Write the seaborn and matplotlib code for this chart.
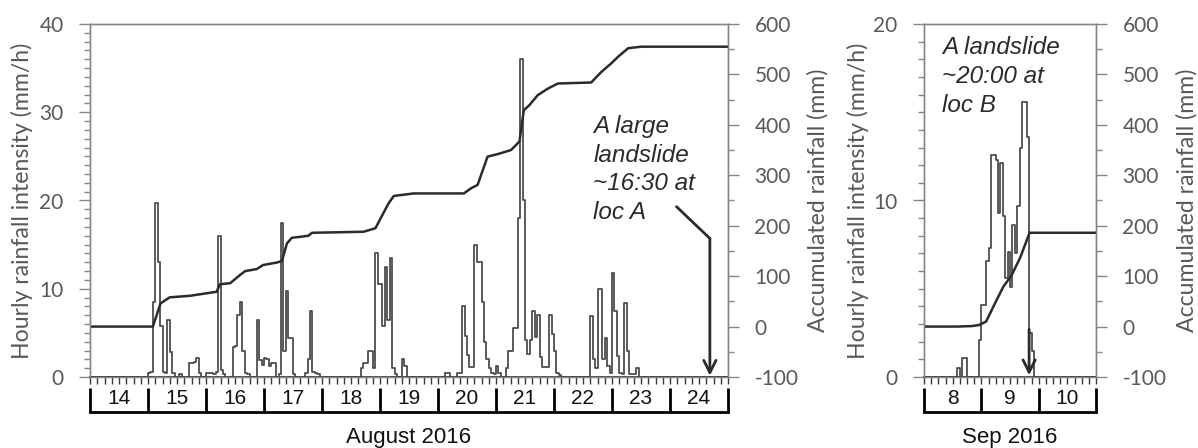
import numpy as np
import matplotlib
matplotlib.use("Agg")
import matplotlib.pyplot as plt
import matplotlib.transforms as mtransforms
from matplotlib.ticker import MultipleLocator
import seaborn as sns

# ---------------- data ----------------
aug_days = [14, 15, 16, 17, 18, 19, 20, 21, 22, 23, 24]
sep_days = [8, 9, 10]

# hourly rainfall (mm/h); hour 0 = Aug 14 00:00
aug_event_start = [24, 37, 41, 48, 51, 59, 69, 78, 89, 112, 129, 147, 152, 172, 207]
aug_event_rain = [
    [0.5, 0.6, 8.5, 19.7, 13.0, 5.8, 0.6, 0.5, 6.5, 2.8, 0.4],
    [0.3],
    [1.6, 1.6, 1.7, 2.1, 0.5],
    [0.5, 0.5, 0.5],
    [0.3, 0.6, 16.0, 0.8, 0.3],
    [3.4, 3.5, 7.0, 8.5, 3.0, 0.5, 0.3],
    [6.5, 1.9, 1.4, 2.1, 2.0, 1.2, 1.6, 1.6],
    [0.3, 17.5, 3.0, 9.8, 4.4, 4.4, 0.3],
    [0.4, 2.0, 7.5, 0.6, 0.5, 0.3],
    [1.0, 1.6, 1.6, 3.0, 3.0, 1.0, 14.0, 10.5, 10.5, 5.8, 12.5, 6.5, 13.5, 1.0, 0.3],
    [2.0, 1.2],
    [0.5, 0.5],
    [0.5, 0.5, 8.0, 4.6, 2.5, 1.1, 1.1, 15.0, 13.0, 13.0, 8.5, 4.0, 2.0, 1.0, 0.4, 0.3, 1.2, 0.4],
    [1.0, 3.0, 3.0, 5.5, 5.5, 18.0, 36.0, 20.0, 4.2, 2.6, 4.2, 7.5, 4.5, 7.0, 2.3, 1.1, 1.1, 1.1,
     7.0, 4.9, 3.0, 0.4, 0.2],
    [6.9, 2.0, 1.0, 10.0, 10.0, 2.0, 4.4, 1.3, 0.5, 11.8, 7.5, 2.4, 0.5, 0.3, 8.4, 3.0, 0.3, 0.3,
     0.3, 1.0],
]

# accumulated rainfall (mm), read at break points
aug_cum_hour = [0, 26, 29.2, 33, 41.3, 52.4, 53.8, 58, 62, 64.2, 69, 71.6, 77.3, 79.4, 81.5,
                83.5, 87, 90.3, 91.9, 113.2, 118.1, 123.5, 125.7, 133.9, 154.7, 157.6, 160.4,
                164.5, 168.7, 174.2, 177.7, 179.5, 181.8, 185.3, 189.5, 193.6, 207.4, 211.6,
                215.7, 218.5, 222.7, 228.2, 264]
aug_cum_mm = [0, 0, 46, 58, 61, 69, 84, 86, 102, 110, 114, 122, 127, 130, 165, 176, 178, 180,
              186, 188, 195, 244, 259, 264, 264, 274, 281, 337, 342, 350, 367, 429, 439, 459,
              472, 482, 484, 505, 522, 535, 552, 555, 555]

# hour 0 = Sep 8 00:00
sep_event_start = [14, 16, 23]
sep_event_rain = [
    [0.5],
    [1.1, 1.1],
    [2.1, 4.1, 4.1, 6.6, 7.3, 12.6, 12.6, 12.3, 9.3, 12.1, 9.1, 5.6, 7.1, 5.1, 8.6, 7.0, 9.7,
     13.0, 15.6, 15.6, 13.6, 2.5, 1.5],
]
sep_cum_hour = [0, 14, 20, 23, 26, 29.7, 33.2, 36.7, 40.2, 44.2, 72]
sep_cum_mm = [0, 0, 1, 3, 10, 46, 79, 102, 136, 186, 186]

aug_landslide_hour = 256.5   # Aug 24 ~16:30
sep_landslide_hour = 44.0    # Sep 9 ~20:00

aug_text = "A large\nlandslide\n~16:30 at\nloc A"
sep_text = "A landslide\n~20:00 at\nloc B"


def hourly_series(n_hours, starts, rains):
    vals = np.zeros(n_hours)
    for s, r in zip(starts, rains):
        vals[s:s + len(r)] = r
    x = np.arange(n_hours + 1)
    y = np.append(vals, vals[-1])
    return x, y


# ---------------- style ----------------
sns.set_style("ticks")
plt.rcParams['font.family'] = ['Lato', 'DejaVu Sans']
plt.rcParams['axes.unicode_minus'] = False

GRAY_TXT = '#595959'
GRAY_AX = '#868686'
DARK = '#2b2b2b'
TICK_FS = 15
LABEL_FS = 16.6

W, H = 1198, 448
fig = plt.figure(figsize=(W / 100, H / 100), dpi=100)

panels = [
    dict(rect=[90 / W, 71 / H, 638 / W, 353 / H], days=aug_days, starts=aug_event_start,
         rains=aug_event_rain, cum_h=aug_cum_hour, cum_mm=aug_cum_mm, ymax=40,
         month="August 2016", ylab_l=-0.106, ylab_r=1.141),
    dict(rect=[924 / W, 71 / H, 172 / W, 353 / H], days=sep_days, starts=sep_event_start,
         rains=sep_event_rain, cum_h=sep_cum_hour, cum_mm=sep_cum_mm, ymax=20,
         month="Sep 2016", ylab_l=-0.384, ylab_r=1.53),
]

axes = []
for p in panels:
    ax = fig.add_axes(p['rect'])
    ax2 = ax.twinx()
    n_hours = 24 * len(p['days'])
    hx, hy = hourly_series(n_hours, p['starts'], p['rains'])

    sns.lineplot(x=hx, y=hy, ax=ax, drawstyle='steps-post', color='#4d4d4d', lw=1.3,
                 estimator=None, sort=False)
    sns.lineplot(x=p['cum_h'], y=p['cum_mm'], ax=ax2, color=DARK, lw=1.8,
                 estimator=None, sort=False)

    ax.set_xlim(0, n_hours)
    ax.set_ylim(0, p['ymax'])
    ax2.set_ylim(-100, 600)

    # y ticks
    ax.yaxis.set_major_locator(MultipleLocator(10))
    ax.yaxis.set_minor_locator(MultipleLocator(1))
    ax2.yaxis.set_major_locator(MultipleLocator(100))
    ax2.yaxis.set_minor_locator(MultipleLocator(50))
    for a in (ax, ax2):
        a.tick_params(axis='y', which='major', length=8, width=1, color=GRAY_AX,
                      labelsize=TICK_FS, labelcolor=GRAY_TXT, pad=11)
        a.tick_params(axis='y', which='minor', length=4, width=1, color=GRAY_AX)
        for s in a.spines.values():
            s.set_color(GRAY_AX)
            s.set_linewidth(1.0)
    ax.spines['bottom'].set_color('#3a3a3a')
    ax.spines['bottom'].set_linewidth(1.3)

    # x ticks every 3 hours, no labels
    ax.set_xticks(np.arange(0, n_hours + 1, 3))
    ax.tick_params(axis='x', which='major', length=5, width=1, color='#3a3a3a',
                   labelbottom=False)

    # day ribbon below the axis
    trans = mtransforms.blended_transform_factory(ax.transData, ax.transAxes)
    y_top, y_bot = -0.030, -0.099
    for i in range(len(p['days']) + 1):
        ax.plot([i * 24, i * 24], [y_top, y_bot], transform=trans, color='black', lw=2,
                clip_on=False, solid_capstyle='butt')
    ax.plot([0, n_hours], [y_bot, y_bot], transform=trans, color='black', lw=2,
            clip_on=False, solid_capstyle='projecting')
    for i, d in enumerate(p['days']):
        ax.text(i * 24 + 12, -0.062, str(d), transform=trans, ha='center', va='center',
                fontsize=15, family='Liberation Sans', color='#111111')
    ax.text(0.5, -0.172, p['month'], transform=ax.transAxes, ha='center', va='center',
            fontsize=16, family='Liberation Sans', color='#111111')

    ax.set_xlabel('')
    ax.set_ylabel('Hourly rainfall intensity (mm/h)', fontsize=LABEL_FS, color=GRAY_TXT)
    ax2.set_ylabel('Accumulated rainfall (mm)', fontsize=LABEL_FS, color=GRAY_TXT)
    ax.yaxis.set_label_coords(p['ylab_l'], 0.5)
    ax2.yaxis.set_label_coords(p['ylab_r'], 0.5)
    ax.yaxis.label.set_va('center')
    ax2.yaxis.label.set_va('center')
    ax2.yaxis.label.set_rotation(90)
    axes.append((ax, ax2))

# annotations
ax_a = axes[0][0]
ax_a.text(208.3, 29.7, aug_text, ha='left', va='top', fontsize=17.5, style='italic',
          family='Liberation Sans', color=DARK, linespacing=1.32)
ax_a.plot([242.7, aug_landslide_hour], [19.3, 15.7], color=DARK, lw=2)
ax_a.annotate('', xy=(aug_landslide_hour, 0.15), xytext=(aug_landslide_hour, 15.7),
              arrowprops=dict(arrowstyle='->', lw=2, color=DARK, mutation_scale=22,
                              shrinkA=0, shrinkB=0))

ax_b = axes[1][0]
ax_b.text(7.5, 19.3, sep_text, ha='left', va='top', fontsize=17.5, style='italic',
          family='Liberation Sans', color=DARK, linespacing=1.32)
ax_b.annotate('', xy=(sep_landslide_hour, 0.1), xytext=(sep_landslide_hour, 2.7),
              arrowprops=dict(arrowstyle='->', lw=2, color=DARK, mutation_scale=22,
                              shrinkA=0, shrinkB=0))

fig.savefig('out.png', dpi=100)
